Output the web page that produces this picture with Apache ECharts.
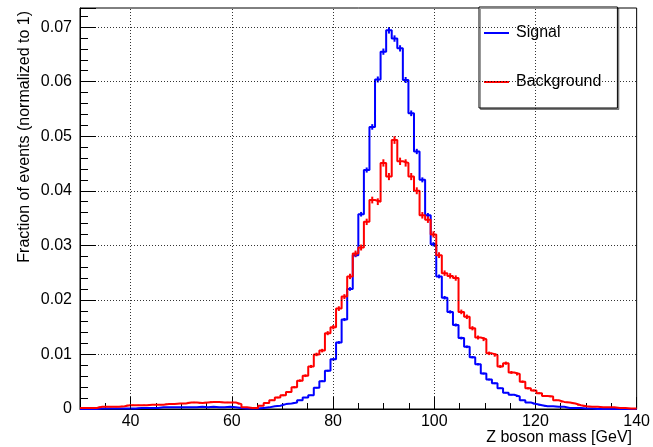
<!DOCTYPE html>
<html>
<head>
<meta charset="utf-8">
<script src="https://cdn.jsdelivr.net/npm/echarts@6/dist/echarts.min.js"></script>
<style>
html,body{margin:0;padding:0;background:#fff;}
#chart{width:653px;height:447px;}
</style>
</head>
<body>
<div id="chart"></div>
<script>
// ---- data (100 bins of 1.1 GeV from 30 to 140) ----
const xMin = 30;
const xMax = 140;
const binWidth = 1.1;
const xTickLabels = [40, 60, 80, 100, 120, 140];
const xGridValues = [40, 60, 80, 100, 120];
const yTickLabels = [0, 0.01, 0.02, 0.03, 0.04, 0.05, 0.06, 0.07];
const yMax = 0.0735;
const seriesNames = ['Signal', 'Background'];

const signal = [
  0, 0, 0, 0.0001, 0.0001, 0.0001, 0.0001, 0.0001, 0.0001, 0.0001,
  0.0002, 0.0002, 0.0002, 0.0002, 0.0003, 0.0003, 0.0003, 0.0003, 0.0003, 0.0003,
  0.0003, 0.0004, 0.0003, 0.0004, 0.0003, 0.0003, 0.0004, 0.0003, 0.0002, 0.0001,
  0.0001, 0.0001, 0.0002, 0.0003, 0.0005, 0.0006, 0.0009, 0.0010, 0.0012, 0.0016,
  0.0021, 0.0025, 0.0039, 0.0051, 0.0070, 0.0091, 0.0122, 0.0164, 0.0220, 0.0282,
  0.0357, 0.0438, 0.0517, 0.0604, 0.0655, 0.0694, 0.0679, 0.0661, 0.0603, 0.0542,
  0.0472, 0.0420, 0.0355, 0.0302, 0.0243, 0.0204, 0.0178, 0.0154, 0.0130, 0.0114,
  0.0095, 0.0082, 0.0065, 0.0054, 0.0047, 0.0038, 0.0030, 0.0026, 0.0023, 0.0016,
  0.0012, 0.0009, 0.0007, 0.0005, 0.0005, 0.0004, 0.0004, 0.0002, 0.0002, 0.0002,
  0.0001, 0.0001, 0, 0, 0, 0, 0, 0, 0, 0
];

const background = [
  0.0002, 0.0002, 0.0002, 0.0004, 0.0004, 0.0004, 0.0004, 0.0005, 0.0007, 0.0007,
  0.0007, 0.0007, 0.0008, 0.0008, 0.0008, 0.0009, 0.0009, 0.0010, 0.0010, 0.0012,
  0.0012, 0.0011, 0.0012, 0.0013, 0.0013, 0.0012, 0.0012, 0.0012, 0.0009, 0.0003,
  0.0002, 0.0002, 0.0006, 0.0011, 0.0016, 0.0021, 0.0025, 0.0031, 0.0040, 0.0052,
  0.0061, 0.0078, 0.0100, 0.0107, 0.0139, 0.0150, 0.0184, 0.0206, 0.0243, 0.0285,
  0.0296, 0.0343, 0.0383, 0.0380, 0.0451, 0.0426, 0.0493, 0.0454, 0.0451, 0.0426,
  0.0400, 0.0355, 0.0347, 0.0320, 0.0282, 0.0249, 0.0244, 0.0240, 0.0178, 0.0169,
  0.0148, 0.0131, 0.0128, 0.0102, 0.0099, 0.0078, 0.0084, 0.0067, 0.0064, 0.0050,
  0.0038, 0.0034, 0.0029, 0.0024, 0.0023, 0.0016, 0.0013, 0.0012, 0.0010, 0.0007,
  0.0005, 0.0004, 0.0004, 0.0003, 0.0003, 0.0003, 0.0002, 0.0002, 0.0001, 0.0001
];

// number of entries used for the statistical (Poisson) error bars
const signalEntries = 200000;
const backgroundEntries = 100000;

// ---- build ----
const FONT = "'Liberation Sans', Arial, Helvetica, sans-serif";
const BLUE = '#0000ff';
const RED = '#ff0000';

function stepData(values) {
  const d = values.map((v, k) => [xMin + k * binWidth, v]);
  d.push([xMax, values[values.length - 1]]);
  return d;
}
function errData(values, entries) {
  return values.map((v, k) => [xMin + (k + 0.5) * binWidth, v, Math.sqrt(v / entries)]);
}
function errSeries(values, entries, color, z) {
  return {
    type: 'custom',
    xAxisIndex: 0, yAxisIndex: 0,
    data: errData(values, entries),
    encode: { x: 0, y: 1 },
    clip: true,
    silent: true,
    z: z,
    renderItem: function (params, api) {
      const x = api.value(0), y = api.value(1), e = api.value(2);
      const p1 = api.coord([x, y - e]);
      const p2 = api.coord([x, y + e]);
      return {
        type: 'line',
        shape: { x1: p1[0], y1: p1[1], x2: p2[0], y2: p2[1] },
        style: { stroke: color, lineWidth: 2 }
      };
    }
  };
}

const gridLineStyle = { color: '#000', width: 1, type: [1, 2], opacity: 0.8 };
const markData = xGridValues.map(v => ({ xAxis: v }))
  .concat(yTickLabels.filter(v => v > 0).map(v => ({ yAxis: v })));

const chart = echarts.init(document.getElementById('chart'), null, { renderer: 'canvas' });
chart.setOption({
  animation: false,
  backgroundColor: '#fff',
  grid: { left: 80, right: 13, top: 8, bottom: 38, show: true, borderColor: '#000', borderWidth: 1, backgroundColor: 'transparent' },
  xAxis: [
    {
      type: 'value', min: xMin, max: xMax, interval: 5, position: 'bottom',
      axisLine: { show: true, lineStyle: { color: '#000', width: 1 } },
      axisTick: { show: true, inside: true, length: 6, lineStyle: { color: '#000' } },
      axisLabel: { show: false },
      splitLine: { show: false }
    },
    {
      type: 'value', min: xMin, max: xMax, position: 'bottom', offset: 0,
      axisLine: { show: false },
      axisTick: { show: true, inside: true, length: 12, customValues: xTickLabels, lineStyle: { color: '#000' } },
      axisLabel: { show: true, customValues: xTickLabels, margin: 5, color: '#000', fontSize: 16, fontFamily: FONT },
      splitLine: { show: false }
    }
  ],
  yAxis: {
    type: 'value', min: 0, max: yMax, interval: 0.01,
    axisLine: { show: true, lineStyle: { color: '#000', width: 1 } },
    axisTick: { show: true, inside: true, length: 16, lineStyle: { color: '#000' } },
    minorTick: { show: true, splitNumber: 5, length: 8, lineStyle: { color: '#000' } },
    axisLabel: {
      showMaxLabel: false, margin: 8, color: '#000', fontSize: 16, fontFamily: FONT,
      formatter: v => (v > 0.0705 ? '' : (v === 0 ? '0' : v.toFixed(2)))
    },
    splitLine: { show: false }
  },
  legend: {
    data: seriesNames.map(n => ({ name: n, icon: 'rect' })),
    orient: 'vertical', left: 479, top: 7,
    padding: [18, 16, 18, 5], itemGap: 33, itemWidth: 25, itemHeight: 2,
    backgroundColor: '#fff', borderColor: '#000', borderWidth: 1,
    shadowColor: 'rgba(0,0,0,0.4)', shadowBlur: 0, shadowOffsetX: 1.5, shadowOffsetY: 1.5,
    selectedMode: false,
    textStyle: { color: '#000', fontSize: 16, fontFamily: FONT, padding: [0, 0, 0, 2] }
  },
  graphic: [
    {
      type: 'text', x: 632, y: 438,
      style: { text: 'Z boson mass [GeV]', fill: '#000', font: '16px ' + FONT, textAlign: 'right', textVerticalAlign: 'middle' }
    },
    {
      type: 'text', x: 25, y: 11, rotation: Math.PI / 2,
      style: { text: 'Fraction of events (normalized to 1)', fill: '#000', font: '16px ' + FONT, textAlign: 'right', textVerticalAlign: 'middle' }
    }
  ],
  series: [
    {
      type: 'line', data: [], z: 1, silent: true,
      markLine: { silent: true, symbol: ['none', 'none'], label: { show: false }, lineStyle: gridLineStyle, data: markData, animation: false }
    },
    {
      name: seriesNames[0], type: 'line', step: 'end', symbol: 'none', showSymbol: false, z: 2,
      xAxisIndex: 0, yAxisIndex: 0,
      data: stepData(signal),
      lineStyle: { color: BLUE, width: 2 }, itemStyle: { color: BLUE }
    },
    errSeries(signal, signalEntries, BLUE, 3),
    {
      name: seriesNames[1], type: 'line', step: 'end', symbol: 'none', showSymbol: false, z: 4,
      xAxisIndex: 0, yAxisIndex: 0,
      data: stepData(background),
      lineStyle: { color: RED, width: 2 }, itemStyle: { color: RED }
    },
    errSeries(background, backgroundEntries, RED, 5)
  ]
});
</script>
</body>
</html>
